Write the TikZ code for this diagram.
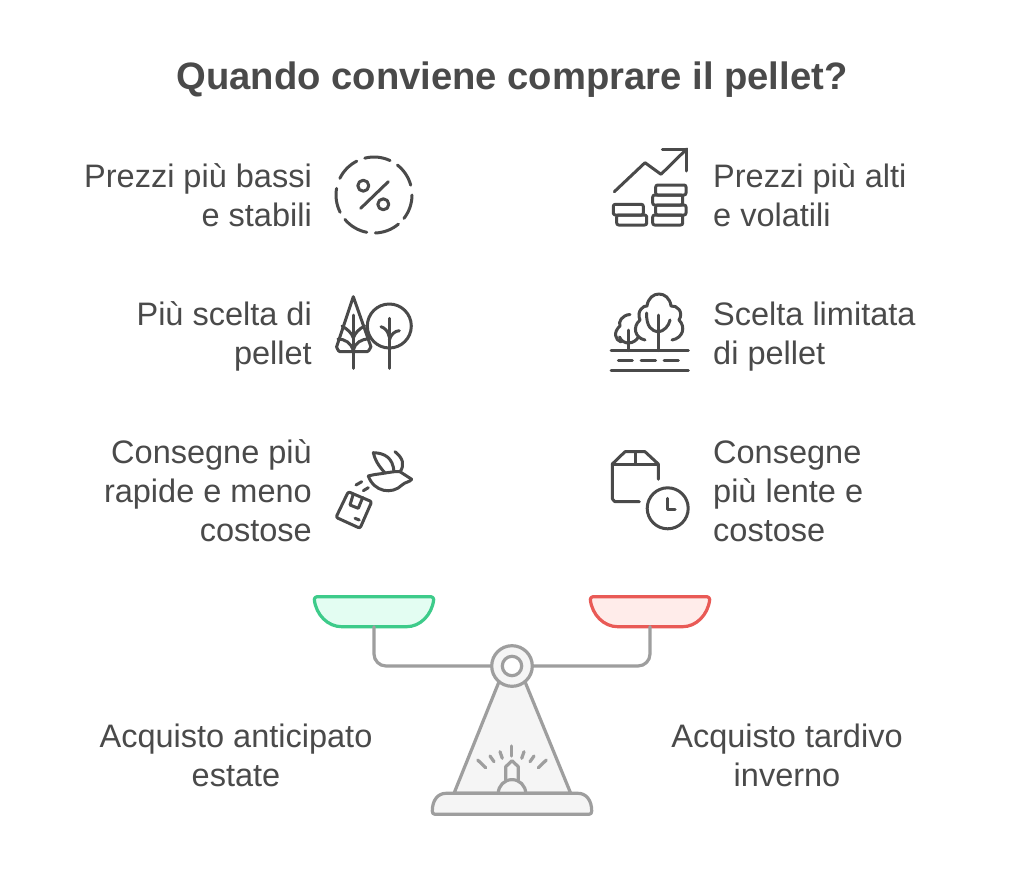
\documentclass[tikz,border=0pt]{standalone}
\usepackage{fontspec}
\setmainfont{Liberation Sans}
\usetikzlibrary{calc}
\definecolor{inkgray}{HTML}{4A4A4A}
\definecolor{scalegray}{HTML}{9E9E9E}
\definecolor{scalefill}{HTML}{F5F5F5}
\definecolor{goodline}{HTML}{3DCB8A}
\definecolor{goodfill}{HTML}{E3FDF2}
\definecolor{badline}{HTML}{E95A56}
\definecolor{badfill}{HTML}{FFECEA}
\tikzset{
  icon/.style={draw=inkgray, line width=3pt, line cap=round, line join=round},
  scaleline/.style={draw=scalegray, line width=3.2pt, line cap=round, line join=round},
  lefttext/.style={anchor=east, align=right, text=inkgray, font=\fontsize{32.5}{39}\selectfont},
  righttext/.style={anchor=west, align=left, text=inkgray, font=\fontsize{32.5}{39}\selectfont},
  sidetext/.style={align=center, text=inkgray, font=\fontsize{32.5}{39}\selectfont},
}
\begin{document}
\begin{tikzpicture}[x=1pt,y=-1pt,inner sep=0pt]
            \useasboundingbox (0,0) rectangle (1024,881);
            \fill[white] (0,0) rectangle (1024,881);

            \node[text=inkgray, font=\fontsize{38.2}{46}\selectfont\bfseries] (title) at (512,80) {Quando conviene comprare il pellet?};

            % Texts
            \node[lefttext] (cheap) at (312,195) {Prezzi più bassi\\e stabili};
            \node[lefttext] (choice) at (312,336) {Più scelta di\\pellet};
            \node[lefttext] (fast) at (312,491) {Consegne più\\rapide e meno\\costose};
            \node[righttext] (dear) at (713,195) {Prezzi più alti\\e volatili};
            \node[righttext] (limited) at (713,337) {Scelta limitata\\di pellet};
            \node[righttext] (slow) at (713,491) {Consegne\\più lente e\\costose};
            \node[sidetext] (early) at (236,755) {Acquisto anticipato\\estate};
            \node[sidetext] (late) at (787,755) {Acquisto tardivo\\inverno};

            % Percent icon
            \foreach \a/\b in {104/65,52/15,0/-38,-50/-88,-101/-140,-153/-190,154/117}
                \draw[icon] ($(374,195)+(\a:38 and -38)$) arc[start angle=-\a, end angle=-\b, radius=38];
            \draw[icon] (360.7,208.3) -- (388.3,181.7);
            \draw[icon] (363.3,185.7) circle (5.5);
            \draw[icon] (383.3,204.3) circle (5.5);

            % Two trees
            \draw[icon] (353.3,296.7) -- (336.5,347) to[out=100,in=180] (340,351.7) -- (367,351.7) to[out=0,in=80] (371,347) -- cycle;
            \draw[icon] (353.3,315) -- (353.3,368.3);
            \draw[icon] (342,326) .. controls (347,329) and (352,333) .. (353.3,338);
            \draw[icon] (364.5,326) .. controls (359,329) and (355,333) .. (353.3,338);
            \draw[icon] (338,339) .. controls (345,339) and (351,343) .. (353.3,350);
            \draw[icon] (369,339) .. controls (361,339) and (355,343) .. (353.3,350);
            \draw[icon] (389.3,326) circle (22);
            \draw[icon] (389.3,318.3) -- (389.3,368.3);
            \draw[icon] (381,326.7) .. controls (385,328) and (388,331) .. (389.3,337);
            \draw[icon] (399.3,330.7) .. controls (395,331) and (391,334) .. (389.3,340);

            % Rising coins
            \draw[icon] (614.3,191.7) -- (645,162.7) -- (661,174.3) -- (686.7,149);
            \draw[icon] (662.3,149) -- (686.7,149) -- (686.7,171);
            \draw[icon, rounded corners=2pt] (613.3,204.3) rectangle (643.3,215);
            \draw[icon, rounded corners=2pt] (616.7,215) rectangle (646.7,225);
            \draw[icon, rounded corners=2pt] (655.7,185) rectangle (686,195);
            \draw[icon, rounded corners=2pt] (652.7,195) rectangle (682.7,205);
            \draw[icon, rounded corners=2pt] (655.7,205) rectangle (686,215);
            \draw[icon, rounded corners=2pt] (652.7,215) rectangle (682.7,225);

            % Trees on a road
            \draw[icon] (611,350.7) -- (688.3,350.7);
            \draw[icon] (611,370) -- (688.3,370);
            \foreach \x/\y in {618.3/632.3,641/655.7,664/678.3}
                \draw[icon] (\x,360.7) -- (\y,360.7);
            \draw[icon] (645,340) .. controls (635,338) and (632,327) .. (640,320)
                .. controls (636,311) and (644,305) .. (647,306)
                .. controls (649,290) and (669,290) .. (671,306)
                .. controls (677,305) and (684,312) .. (679,320)
                .. controls (686,327) and (683,338) .. (672,340);
            \draw[icon] (658.3,315) -- (658.3,350.7);
            \draw[icon] (646.7,313) .. controls (646,327) and (652,331) .. (658.3,332) .. controls (664,331) and (669,326) .. (670,320);
            \draw[icon] (630,314.5) .. controls (622,315) and (618,322) .. (620,326) .. controls (613,332) and (615,340) .. (621,342);
            \draw[icon] (628.3,330) -- (628.3,350.7);
            \draw[icon] (619.5,337) .. controls (621,341) and (625,343) .. (628.3,343) .. controls (633,343) and (637,340) .. (638.3,337);

            % Parcel and leaves
            \draw[icon, rounded corners=2pt] (348.3,491.7) -- (371.7,501.7) -- (360,528.3) -- (336,517.3) -- cycle;
            \draw[icon] (353.3,494) -- (350,505) -- (358.3,508.3) -- (362.7,497.5);
            \draw[icon] (355,518.3) -- (359.3,520);
            \draw[icon] (356,485) -- (361.7,481.7);
            \draw[icon] (363.3,490.7) -- (368.3,487.7);
            \draw[icon] (368.3,476) .. controls (374,492) and (392,495) .. (402,485) .. controls (405,482) and (410,482) .. (411.7,479.3);
            \draw[icon] (368.3,476) .. controls (375,474) and (381,474) .. (385,473) .. controls (378,465) and (375,460) .. (373.3,452.7)
                .. controls (385,453) and (393,458) .. (394,471.7) -- (400,471.7) .. controls (405,465) and (403,458) .. (395,451.7);
            \draw[icon] (385,473) -- (394,471.7);
            \draw[icon] (400,471.7) -- (411.7,479.3);

            % Parcel and clock
            \draw[icon] (639.3,501.7) -- (615,501.7) to[out=180,in=90] (612.3,499) -- (612.3,464) -- (625,451.7) -- (645,451.7) -- (658.3,464) -- (658.3,479.3);
            \draw[icon] (612.3,464) -- (658.3,464);
            \draw[icon] (635,451.7) -- (635,464);
            \draw[icon] (667.7,508.3) circle (20.5);
            \draw[icon] (667.7,498.3) -- (667.7,509) -- (675,509);

            % Pans
            \draw[draw=goodline, fill=goodfill, line width=3.2pt, line join=round] (317,596.7) -- (431,596.7) to[out=0,in=90] (433.7,599.5) .. controls (432,615) and (420,626.7) .. (406.7,626.7) -- (341.7,626.7) .. controls (328,626.7) and (316,615) .. (314.3,599.5) to[out=90,in=180] cycle;
            \draw[draw=badline, fill=badfill, line width=3.2pt, line join=round] (593,596.7) -- (707,596.7) to[out=0,in=90] (709.7,599.5) .. controls (708,615) and (696,626.7) .. (682.7,626.7) -- (617.7,626.7) .. controls (604,626.7) and (592,615) .. (590.3,599.5) to[out=90,in=180] cycle;

            % Beam
            \draw[scaleline, rounded corners=12pt] (374,626.7) -- (374,666) -- (650,666) -- (650,626.7);

            % Stand
            \draw[scaleline, fill=scalefill] (499,681.7) -- (454,793.3) -- (570.7,793.3) -- (525,681.7) -- cycle;
            \foreach \x/\y/\u/\v in {511.7/746/511.7/756,500/751.7/502.3/758.3,490/756/494/761.7,477.7/760/485.7/767.7,524/751.7/521.7/758.3,534/756/530/761.7,546.3/760/538.3/767.7}
                \draw[scaleline] (\x,\y) -- (\u,\v);
            \draw[scaleline] (505.7,780) -- (505.7,766.7) -- (512,760.7) -- (518.3,766.7) -- (518.3,780);
            \draw[scaleline, fill=scalefill] (498.3,793.3) arc[start angle=180, end angle=360, radius=13.7];
            \draw[scaleline, fill=scalefill] (446,793.3) -- (578,793.3) .. controls (586,793.3) and (591.7,800) .. (591.7,811) .. controls (591.7,813) and (591,814.3) .. (589,814.3) -- (435,814.3) .. controls (433,814.3) and (432.3,813) .. (432.3,811) .. controls (432.3,800) and (438,793.3) .. (446,793.3) -- cycle;

            % Pivot
            \draw[scaleline, fill=scalefill] (512,666) circle (20.3);
            \draw[scaleline, fill=white] (512,666) circle (9.7);
\end{tikzpicture}
\end{document}
